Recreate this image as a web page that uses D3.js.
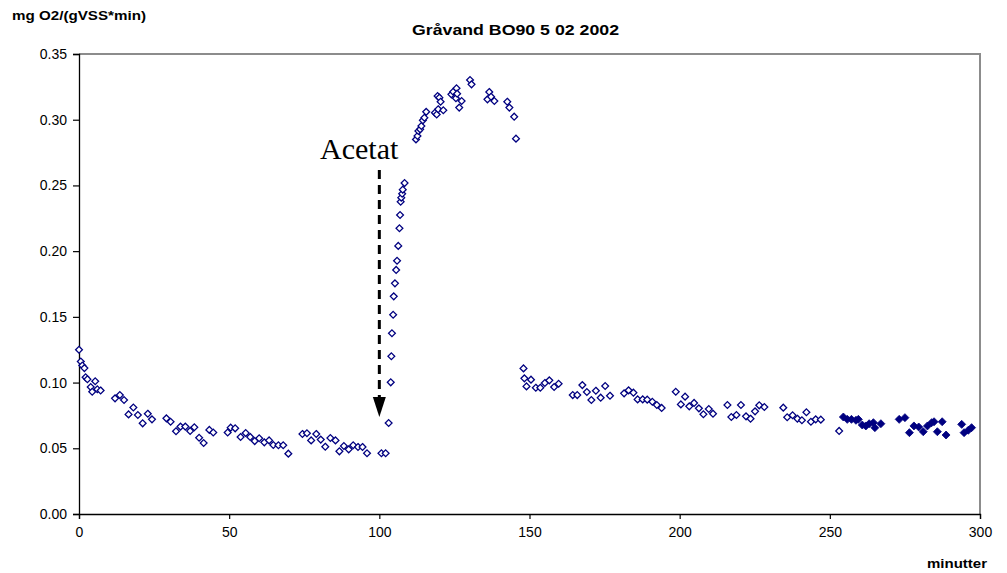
<!DOCTYPE html>
<html>
<head>
<meta charset="utf-8">
<script src="https://cdn.jsdelivr.net/npm/d3@7"></script>
<style>
  html, body { margin: 0; padding: 0; background: #fff; }
  svg { display: block; }
</style>
</head>
<body>
<script>
// Oxygen uptake rate, Gråvand BO90, 5 Feb 2002 — minutes vs mg O2/(gVSS*min)
const openTime = [0, 0.6, 1.1, 1.8, 2.2, 2.8, 3.9, 4.4, 5.4, 6.1, 7.2, 12, 13.6, 15, 16.5, 18.1, 19.6, 21.2, 22.9, 24.3,
  29.1, 30.5, 32.3, 33.8, 35.4, 37, 38.4, 40, 41.5, 43.4, 44.7, 49.5, 50.5, 52, 53.8, 55.5, 57, 58.5, 60, 61.7, 63.3,
  64.7, 66.4, 68, 69.7, 74.4, 75.9, 77.3, 79, 80.5, 82, 83.7, 85.4, 86.7, 88.2, 89.8, 91.3, 92.9, 94.4, 95.9, 100.7,
  102.1, 103.1, 103.8, 104, 104.2, 104.6, 104.8, 105.2, 105.6, 105.9, 106.3, 106.7, 106.9, 107.1, 107.3, 107.6, 107.8,
  108.4, 112.2, 112.7, 113, 113.6, 114, 114.5, 115, 115.6, 118.5, 119.1, 119.4, 119.6, 120, 120.4, 121.3, 124, 124.6,
  125.5, 125.7, 125.9, 126.6, 127.4, 130.2, 130.7, 136, 136.6, 137.2, 138.3, 142.6, 143.3, 144.9, 145.5,
  148, 148.3, 149, 150.5, 152.1, 153.6, 155.1, 156.6, 158.2, 159.7, 164.4, 165.9, 167.6, 169.1, 170.6, 172.1, 173.7,
  175.2, 176.8, 181.5, 183, 184.6, 186, 187.7, 189.2, 190.9, 192.4, 194, 198.7, 200.4, 201.8, 203.2, 204.8, 206.4,
  207.9, 209.7, 211.1, 215.9, 217.2, 218.9, 220.4, 222.1, 223.6, 225.1, 226.5, 228.2, 234.5, 235.8, 237.6, 239.2,
  240.7, 242.2, 243.7, 245.3, 247, 253.1];
const openRate = [0.125, 0.116, 0.113, 0.111, 0.104, 0.1025, 0.0966, 0.093, 0.101, 0.0949, 0.094, 0.088, 0.0905, 0.0867,
  0.0758, 0.081, 0.0753, 0.069, 0.0763, 0.072, 0.0728, 0.0702, 0.063, 0.0665, 0.0665, 0.0632, 0.066, 0.058, 0.054,
  0.064, 0.062, 0.062, 0.0657, 0.0652, 0.0586, 0.0616, 0.0586, 0.0555, 0.0576, 0.0545, 0.056, 0.0525, 0.0523, 0.0523,
  0.0459, 0.0609, 0.0614, 0.056, 0.0609, 0.0566, 0.0512, 0.0578, 0.056, 0.0477, 0.0517, 0.0492, 0.0523, 0.051, 0.051,
  0.0462, 0.0462, 0.0462, 0.0692, 0.1002, 0.120, 0.1375, 0.1516, 0.1656, 0.1755, 0.1857, 0.1927, 0.204, 0.2174, 0.2275,
  0.2376, 0.2407, 0.2437, 0.2468, 0.2518, 0.285, 0.2876, 0.2914, 0.2927, 0.2952, 0.2995, 0.3015, 0.306, 0.3053, 0.304,
  0.318, 0.308, 0.3168, 0.3137, 0.3072, 0.3193, 0.3213, 0.3163, 0.3239, 0.3198, 0.3092, 0.3142, 0.3302, 0.3269, 0.3155,
  0.3211, 0.3175, 0.3142, 0.3137, 0.3092, 0.3023, 0.2856,
  0.1108, 0.1032, 0.0971, 0.1022, 0.0961, 0.0961, 0.0997, 0.1017, 0.0966, 0.0991, 0.0905, 0.0905, 0.0981, 0.0928,
  0.0867, 0.0938, 0.0885, 0.0974, 0.09, 0.0918, 0.0941, 0.0923, 0.0872, 0.0872, 0.087, 0.0854, 0.0829, 0.0807, 0.093,
  0.0834, 0.0893, 0.0819, 0.0845, 0.0804, 0.0759, 0.0799, 0.0763, 0.0829, 0.0738, 0.0753, 0.0829, 0.0743, 0.0725,
  0.0781, 0.0827, 0.0814, 0.0809, 0.0736, 0.0751, 0.0725, 0.0713, 0.0774, 0.0702, 0.072, 0.0718, 0.0632];

const filledTime = [254.5, 255.8, 257.2, 258.7, 259.5, 260.8, 262, 263.1, 264.5, 265, 267, 273.1, 275, 276.5, 278,
  279.6, 281.1, 282.5, 283.9, 284.7, 285.8, 287.4, 288.7, 293.9, 294.7, 296.1, 297.2];
const filledRate = [0.0738, 0.072, 0.072, 0.0713, 0.072, 0.0677, 0.067, 0.0687, 0.0695, 0.0657, 0.0687, 0.072, 0.0733,
  0.0619, 0.067, 0.0662, 0.0626, 0.067, 0.0695, 0.0702, 0.0626, 0.0702, 0.0601, 0.0682, 0.0619, 0.0637, 0.0657];

const xTicks = [0, 50, 100, 150, 200, 250, 300];
const yTicks = [0, 0.05, 0.10, 0.15, 0.20, 0.25, 0.30, 0.35];

// Acetate dosing annotation: arrow from label down to the dosing time
const doseTime = 100;
const arrowFrom = 0.2617;
const arrowTo = 0.0738;
const doseLabel = "Acetat";
const doseLabelCenter = 93.3;   // minutes, horizontal centre of the label

const W = 1007, H = 573;
const plot = { left: 79, right: 980, top: 54, bottom: 514 };

const svg = d3.select("body").append("svg").attr("width", W).attr("height", H);

const x = d3.scaleLinear().domain([0, 300]).range([plot.left, plot.right]);
const y = d3.scaleLinear().domain([0, 0.35]).range([plot.bottom, plot.top]);

// grey frame on the top and right
svg.append("path")
  .attr("d", `M${plot.left},${plot.top}H${plot.right}V${plot.bottom}`)
  .attr("fill", "none").attr("stroke", "#8c8c8c").attr("stroke-width", 2);

const tickFont = "'Liberation Sans', Arial, sans-serif";

const yAxis = svg.append("g")
  .attr("transform", `translate(${plot.left},0)`)
  .call(d3.axisLeft(y).tickValues(yTicks).tickFormat(d3.format(".2f")).tickSize(6).tickPadding(6));
const xAxis = svg.append("g")
  .attr("transform", `translate(0,${plot.bottom})`)
  .call(d3.axisBottom(x).tickValues(xTicks).tickFormat(d3.format("d")).tickSize(5).tickPadding(8));

[yAxis, xAxis].forEach(g => {
  g.selectAll(".domain").attr("stroke", "#000").attr("stroke-width", 1.3);
  g.selectAll(".tick line").attr("stroke", "#000").attr("stroke-width", 1.2);
  g.selectAll("text").attr("font-family", tickFont).attr("font-size", 14).attr("fill", "#000");
});

// markers
const diamond = r => `M0,${-r}L${r},0L0,${r}L${-r},0Z`;

svg.append("g").selectAll("path")
  .data(d3.zip(openTime, openRate))
  .join("path")
  .attr("d", diamond(3.4))
  .attr("transform", d => `translate(${x(d[0])},${y(d[1])})`)
  .attr("fill", "#fff").attr("stroke", "#000080").attr("stroke-width", 1.3);

svg.append("g").selectAll("path")
  .data(d3.zip(filledTime, filledRate))
  .join("path")
  .attr("d", diamond(4))
  .attr("transform", d => `translate(${x(d[0])},${y(d[1])})`)
  .attr("fill", "#000080").attr("stroke", "#000080").attr("stroke-width", 0.8);

// dosing arrow
const ax = x(doseTime);
const headLen = 20, headHalf = 6.5;
svg.append("line")
  .attr("x1", ax).attr("x2", ax)
  .attr("y1", y(arrowFrom)).attr("y2", y(arrowTo) - headLen + 1)
  .attr("stroke", "#000").attr("stroke-width", 3).attr("stroke-dasharray", "9,6");
svg.append("path")
  .attr("d", `M${ax - headHalf},${y(arrowTo) - headLen}L${ax + headHalf},${y(arrowTo) - headLen}L${ax},${y(arrowTo)}Z`)
  .attr("fill", "#000");

svg.append("text")
  .attr("x", x(doseLabelCenter)).attr("y", y(arrowFrom) - 11)
  .attr("text-anchor", "middle")
  .attr("font-family", "'Liberation Serif', 'Times New Roman', serif")
  .attr("font-size", 30)
  .text(doseLabel);

// titles
const bold = "'Liberation Sans', Arial, sans-serif";
svg.append("text")
  .attr("x", 412).attr("y", 35)
  .attr("font-family", bold).attr("font-weight", "bold").attr("font-size", 14)
  .attr("textLength", 207).attr("lengthAdjust", "spacingAndGlyphs")
  .text("Gråvand BO90 5 02 2002");

svg.append("text")
  .attr("x", 12).attr("y", 20)
  .attr("font-family", bold).attr("font-weight", "bold").attr("font-size", 13)
  .attr("textLength", 134).attr("lengthAdjust", "spacingAndGlyphs")
  .text("mg O2/(gVSS*min)");

svg.append("text")
  .attr("x", 927).attr("y", 568)
  .attr("font-family", bold).attr("font-weight", "bold").attr("font-size", 13)
  .attr("textLength", 60).attr("lengthAdjust", "spacingAndGlyphs")
  .text("minutter");
</script>
</body>
</html>
